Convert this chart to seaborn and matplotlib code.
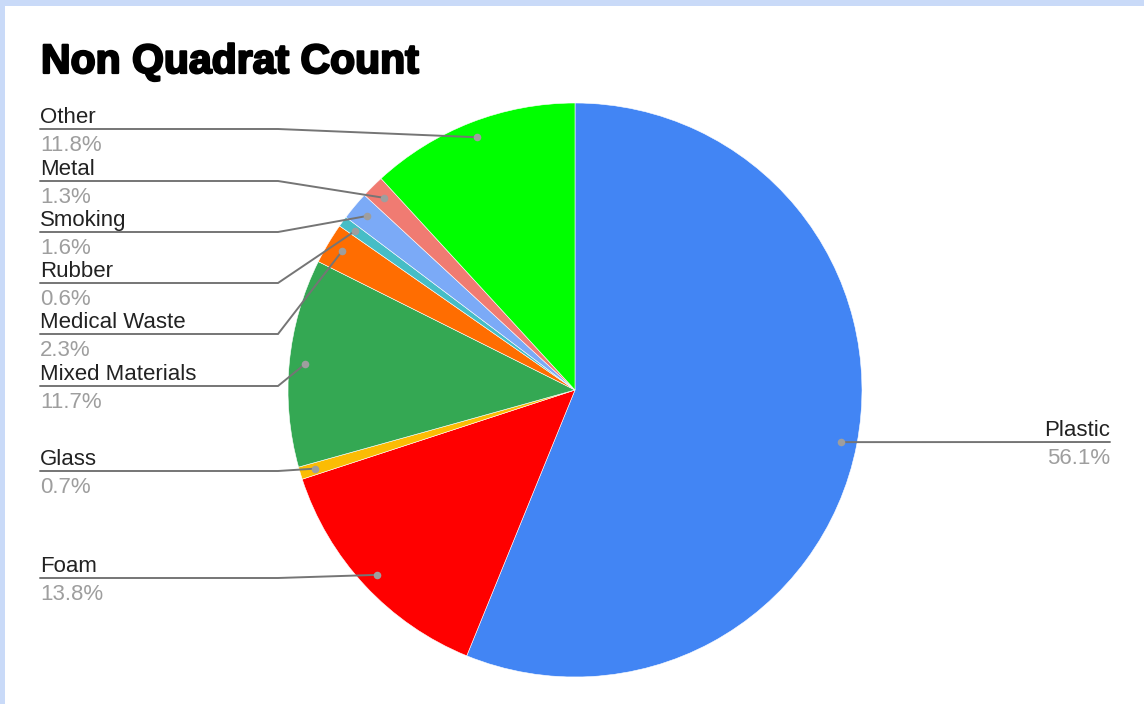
import matplotlib
matplotlib.use("Agg")
import matplotlib.pyplot as plt
import matplotlib.patheffects as pe
import numpy as np
import seaborn as sns
from matplotlib.patches import Rectangle

# data, clockwise from 12 o'clock
categories = ["Plastic", "Foam", "Glass", "Mixed Materials", "Medical Waste",
              "Rubber", "Smoking", "Metal", "Other"]
percents = [56.1, 13.8, 0.7, 11.7, 2.3, 0.6, 1.6, 1.3, 11.8]
slice_colors = ["#4285f4", "#ff0000", "#fbbc04", "#34a853", "#ff6d01",
                "#46bdc6", "#7baaf7", "#f07b72", "#00ff00"]

# layout (pixels, y measured from the bottom of the 1144x704 canvas)
W, H = 1144, 704
cx, cy, R = 575, H - 390, 287
# y of each label's underline, same order as categories
label_line_y = [442, 578, 471, 386, 334, 283, 232, 181, 129]
left_x, elbow_x, right_x = 40, 278, 1110

sns.set_theme(style="white")
plt.rcParams['font.family'] = ['Liberation Sans', 'DejaVu Sans']

fig = plt.figure(figsize=(W / 100, H / 100), dpi=100)
fig.patch.set_facecolor("white")
ax = fig.add_axes([0, 0, 1, 1])

wedges, _ = ax.pie(percents, colors=sns.color_palette(slice_colors),
                   startangle=90, counterclock=False, center=(cx, cy),
                   radius=R, wedgeprops=dict(edgecolor="white", linewidth=0.4))

ax.set_xlim(0, W)
ax.set_ylim(0, H)
ax.set_aspect("auto")
ax.axis("off")

line_col = "#757575"
dot_col = "#9e9e9e"
fs = 16

for w, name, pct, ly in zip(wedges, categories, percents, label_line_y):
    mid = np.deg2rad((w.theta1 + w.theta2) / 2)
    dx = cx + 0.945 * R * np.cos(mid)
    dy = cy + 0.945 * R * np.sin(mid)
    y = H - ly
    if np.cos(mid) > 0:
        ax.plot([dx, right_x], [dy, y], color=line_col, lw=1.4, zorder=3)
        tx, ha = right_x, "right"
    else:
        ax.plot([left_x, elbow_x, dx], [y, y, dy], color=line_col, lw=1.4,
                zorder=3, solid_joinstyle="miter")
        tx, ha = left_x, "left"
    ax.scatter([dx], [dy], s=30, color=dot_col, zorder=4, linewidths=0)
    ax.text(tx, y + 6, name, ha=ha, va="baseline", fontsize=fs, color="#222222")
    ax.text(tx, y - 22, f"{pct:.1f}%", ha=ha, va="baseline", fontsize=fs,
            color="#9e9e9e")

ax.text(41, H - 73, "Non Quadrat Count", ha="left", va="baseline",
        fontsize=29.5, fontweight="bold", color="black",
        path_effects=[pe.withStroke(linewidth=1.6, foreground="black")])

# light blue frame on top and left
fig.add_artist(Rectangle((0, 1 - 6 / H), 1, 6 / H, transform=fig.transFigure,
                         facecolor="#c9daf8", edgecolor="none"))
fig.add_artist(Rectangle((0, 0), 5 / W, 1, transform=fig.transFigure,
                         facecolor="#c9daf8", edgecolor="none"))

fig.savefig("out.png", dpi=100)
